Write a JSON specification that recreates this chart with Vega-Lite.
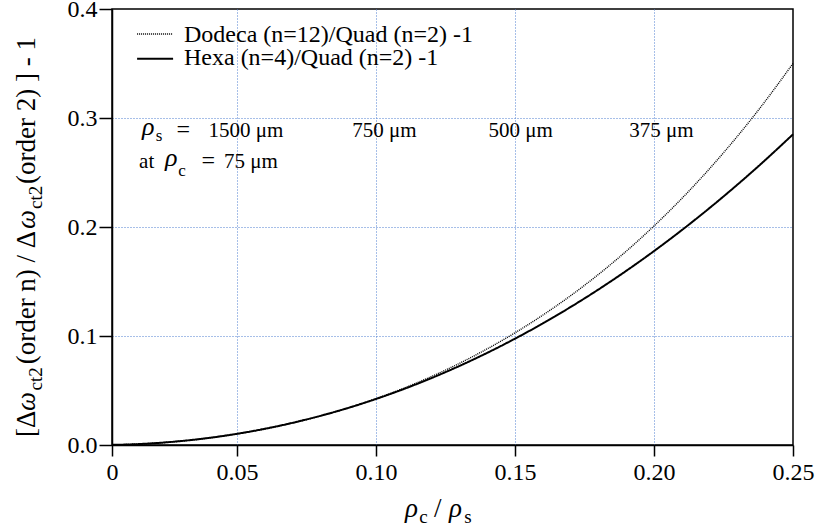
{
  "$schema": "https://vega.github.io/schema/vega-lite/v6.json",
  "autosize": "none",
  "width": 681,
  "height": 436,
  "padding": {"left": 112, "top": 9, "right": 24, "bottom": 86},
  "background": "white",
  "config": {
    "view": {"stroke": "black", "strokeWidth": 1.5},
    "axis": {
      "labelFont": "Liberation Serif", "labelFontSize": 24, "labelColor": "black",
      "domainColor": "black", "domainWidth": 1.5, "tickColor": "black", "tickWidth": 1.5,
      "gridColor": "#4f7fd0", "gridDash": [1, 2], "gridWidth": 1,
      "labelFlush": false, "labelOverlap": false, "title": null
    },
    "text": {"font": "Liberation Serif", "color": "black"}
  },
  "datasets": {
    "curves": [
      {"series": "Dodeca", "x": 0.005, "y": 0.0001},
      {"series": "Dodeca", "x": 0.0125, "y": 0.00063},
      {"series": "Dodeca", "x": 0.025, "y": 0.00251},
      {"series": "Dodeca", "x": 0.0375, "y": 0.00568},
      {"series": "Dodeca", "x": 0.05, "y": 0.01016},
      {"series": "Dodeca", "x": 0.0625, "y": 0.01602},
      {"series": "Dodeca", "x": 0.075, "y": 0.02331},
      {"series": "Dodeca", "x": 0.0875, "y": 0.03213},
      {"series": "Dodeca", "x": 0.1, "y": 0.04256},
      {"series": "Dodeca", "x": 0.1125, "y": 0.05473},
      {"series": "Dodeca", "x": 0.125, "y": 0.06875},
      {"series": "Dodeca", "x": 0.1375, "y": 0.08478},
      {"series": "Dodeca", "x": 0.15, "y": 0.10296},
      {"series": "Dodeca", "x": 0.1625, "y": 0.12348},
      {"series": "Dodeca", "x": 0.175, "y": 0.14651},
      {"series": "Dodeca", "x": 0.1875, "y": 0.17227},
      {"series": "Dodeca", "x": 0.2, "y": 0.20096},
      {"series": "Dodeca", "x": 0.2125, "y": 0.23283},
      {"series": "Dodeca", "x": 0.225, "y": 0.26811},
      {"series": "Dodeca", "x": 0.2375, "y": 0.30708},
      {"series": "Dodeca", "x": 0.25, "y": 0.35},
      {"series": "Hexa", "x": 0.005, "y": 0.0001},
      {"series": "Hexa", "x": 0.0125, "y": 0.00063},
      {"series": "Hexa", "x": 0.025, "y": 0.00254},
      {"series": "Hexa", "x": 0.0375, "y": 0.00574},
      {"series": "Hexa", "x": 0.05, "y": 0.01028},
      {"series": "Hexa", "x": 0.0625, "y": 0.01617},
      {"series": "Hexa", "x": 0.075, "y": 0.02345},
      {"series": "Hexa", "x": 0.0875, "y": 0.03213},
      {"series": "Hexa", "x": 0.1, "y": 0.04224},
      {"series": "Hexa", "x": 0.1125, "y": 0.05381},
      {"series": "Hexa", "x": 0.125, "y": 0.06688},
      {"series": "Hexa", "x": 0.1375, "y": 0.08145},
      {"series": "Hexa", "x": 0.15, "y": 0.09756},
      {"series": "Hexa", "x": 0.1625, "y": 0.11524},
      {"series": "Hexa", "x": 0.175, "y": 0.1345},
      {"series": "Hexa", "x": 0.1875, "y": 0.15539},
      {"series": "Hexa", "x": 0.2, "y": 0.17792},
      {"series": "Hexa", "x": 0.2125, "y": 0.20212},
      {"series": "Hexa", "x": 0.225, "y": 0.22802},
      {"series": "Hexa", "x": 0.2375, "y": 0.25563},
      {"series": "Hexa", "x": 0.25, "y": 0.285}
    ]
  },
  "encoding": {
    "x": {
      "field": "x", "type": "quantitative",
      "scale": {"domain": [0.005, 0.25], "nice": false, "zero": false},
      "axis": {
        "values": [0.005, 0.05, 0.1, 0.15, 0.2, 0.25],
        "labelExpr": "datum.value < 0.01 ? '0' : format(datum.value, '.2f')",
        "labelFont": "Liberation Serif", "labelFontSize": 24, "labelColor": "black",
        "tickSize": 11, "labelPadding": 4, "grid": true,
        "gridOpacity": {"condition": {"test": "datum.value < 0.01 || datum.value > 0.24", "value": 0}, "value": 1}
      }
    },
    "y": {
      "field": "y", "type": "quantitative",
      "scale": {"domain": [0, 0.4], "nice": false},
      "axis": {
        "values": [0, 0.1, 0.2, 0.3, 0.4], "format": ".1f",
        "labelFont": "Liberation Serif", "labelFontSize": 24, "labelColor": "black",
        "tickSize": 13, "labelPadding": 2, "grid": true,
        "gridOpacity": {"condition": {"test": "datum.value < 0.01 || datum.value > 0.39", "value": 0}, "value": 1}
      }
    }
  },
  "layer": [
    {
      "data": {"name": "curves"},
      "mark": {"type": "line", "color": "black", "interpolate": "monotone"},
      "encoding": {
        "detail": {"field": "series"},
        "strokeDash": {"field": "series", "type": "nominal", "scale": {"domain": ["Dodeca", "Hexa"], "range": [[1, 1], [1, 0]]}, "legend": null},
        "strokeWidth": {"field": "series", "type": "nominal", "scale": {"domain": ["Dodeca", "Hexa"], "range": [1.4, 2]}, "legend": null}
      }
    },
    {
      "data": {"values": [
        {"series": "Dodeca", "x": 0.01403, "x2": 0.02698, "y": 0.3771},
        {"series": "Hexa", "x": 0.01403, "x2": 0.02698, "y": 0.3544}
      ]},
      "mark": {"type": "rule", "color": "black"},
      "encoding": {
        "x2": {"field": "x2"},
        "strokeDash": {"field": "series", "type": "nominal", "scale": {"domain": ["Dodeca", "Hexa"], "range": [[1, 1], [1, 0]]}, "legend": null},
        "strokeWidth": {"field": "series", "type": "nominal", "scale": {"domain": ["Dodeca", "Hexa"], "range": [1.4, 2]}, "legend": null}
      }
    },
    {
      "data": {"values": [
        {"x": 0.0309, "y": 0.3697, "text": "Dodeca (n=12)/Quad (n=2) -1"},
        {"x": 0.0309, "y": 0.3486, "text": "Hexa (n=4)/Quad (n=2) -1"}
      ]},
      "mark": {"type": "text", "font": "Liberation Serif", "align": "left", "baseline": "alphabetic", "fontSize": 24},
      "encoding": {"text": {"field": "text"}}
    },
    {
      "data": {"values": [
        {"x": 0.0532, "y": 0.2826, "text": "1500 μm"},
        {"x": 0.103, "y": 0.2826, "text": "750 μm"},
        {"x": 0.152, "y": 0.2826, "text": "500 μm"},
        {"x": 0.2027, "y": 0.2826, "text": "375 μm"}
      ]},
      "mark": {"type": "text", "font": "Liberation Serif", "align": "center", "baseline": "alphabetic", "fontSize": 21},
      "encoding": {"text": {"field": "text"}}
    },
    {
      "data": {"values": [
        {"x": 0.01475, "y": 0.2541, "text": "at"},
        {"x": 0.0453, "y": 0.2541, "text": "75 μm"}
      ]},
      "mark": {"type": "text", "font": "Liberation Serif", "align": "left", "baseline": "alphabetic", "fontSize": 21},
      "encoding": {"text": {"field": "text"}}
    },
    {
      "data": {"values": [
        {"x": 0.0282, "y": 0.2826, "text": "="},
        {"x": 0.0372, "y": 0.2541, "text": "="}
      ]},
      "mark": {"type": "text", "font": "Liberation Serif", "align": "left", "baseline": "alphabetic", "fontSize": 24},
      "encoding": {"text": {"field": "text"}}
    },
    {
      "data": {"values": [
        {"x": 0.0158, "y": 0.2844, "text": "ρ"},
        {"x": 0.0241, "y": 0.256, "text": "ρ"}
      ]},
      "mark": {"type": "text", "font": "Liberation Serif", "align": "left", "baseline": "alphabetic", "fontSize": 26, "fontStyle": "italic"},
      "encoding": {"text": {"field": "text"}}
    },
    {
      "data": {"values": [
        {"x": 0.0207, "y": 0.2789, "text": "s"},
        {"x": 0.0288, "y": 0.2468, "text": "c"}
      ]},
      "mark": {"type": "text", "font": "Liberation Serif", "align": "left", "baseline": "alphabetic", "fontSize": 17},
      "encoding": {"text": {"field": "text"}}
    },
    {
      "data": {"values": [
        {"x": 0.1104, "y": -0.066, "text": "ρ"},
        {"x": 0.1262, "y": -0.066, "text": "ρ"}
      ]},
      "mark": {"type": "text", "font": "Liberation Serif", "align": "left", "baseline": "alphabetic", "fontSize": 27, "fontStyle": "italic"},
      "encoding": {"text": {"field": "text"}}
    },
    {
      "data": {"values": [
        {"x": 0.1208, "y": -0.066, "text": "/"}
      ]},
      "mark": {"type": "text", "font": "Liberation Serif", "align": "left", "baseline": "alphabetic", "fontSize": 27},
      "encoding": {"text": {"field": "text"}}
    },
    {
      "data": {"values": [
        {"x": 0.1155, "y": -0.0716, "text": "c"},
        {"x": 0.1317, "y": -0.0716, "text": "s"}
      ]},
      "mark": {"type": "text", "font": "Liberation Serif", "align": "left", "baseline": "alphabetic", "fontSize": 19},
      "encoding": {"text": {"field": "text"}}
    },
    {
      "data": {"values": [
        {"x": -0.0227, "y": 0.0073, "text": "[Δ"},
        {"x": -0.0227, "y": 0.074, "text": "(order n) / Δ"},
        {"x": -0.0227, "y": 0.2394, "text": "(order 2) ] - 1"}
      ]},
      "mark": {"type": "text", "font": "Liberation Serif", "align": "left", "baseline": "alphabetic", "fontSize": 27, "angle": 270},
      "encoding": {"text": {"field": "text"}}
    },
    {
      "data": {"values": [
        {"x": -0.0227, "y": 0.0312, "text": "ω"},
        {"x": -0.0227, "y": 0.1982, "text": "ω"}
      ]},
      "mark": {"type": "text", "font": "Liberation Serif", "align": "left", "baseline": "alphabetic", "fontSize": 27, "angle": 270, "fontStyle": "italic"},
      "encoding": {"text": {"field": "text"}}
    },
    {
      "data": {"values": [
        {"x": -0.0227, "y": 0.05, "text": "ct2"},
        {"x": -0.0227, "y": 0.2165, "text": "ct2"}
      ]},
      "mark": {"type": "text", "font": "Liberation Serif", "align": "left", "baseline": "alphabetic", "fontSize": 19, "angle": 270, "dy": 7},
      "encoding": {"text": {"field": "text"}}
    }
  ]
}
